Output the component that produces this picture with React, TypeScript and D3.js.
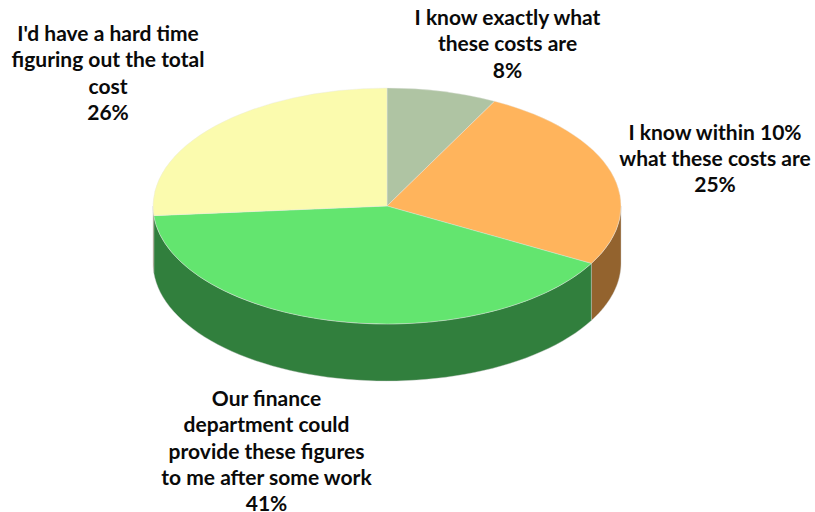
import React from "react";
import * as d3 from "d3";

const categories = [
  "I know exactly what these costs are",
  "I know within 10% what these costs are",
  "Our finance department could provide these figures to me after some work",
  "I'd have a hard time figuring out the total cost",
];
const values = [7.6, 25.5, 40.6, 26.3];
const topColors = ["#AFC4A3", "#FFB45C", "#63E56F", "#FBFBAE"];
const sideColors = ["#75836D", "#93632E", "#317F3D", "#8B8B60"];
const labelLines = [
  ["I know exactly what", "these costs are", "8%"],
  ["I know within 10%", "what these costs are", "25%"],
  ["Our finance", "department could", "provide these figures", "to me after some work", "41%"],
  ["I'd have a hard time", "figuring out the total", "cost", "26%"],
];
const labelAnchors: [number, number][] = [
  [507.5, 25],
  [715, 139.5],
  [266.5, 406],
  [108, 41],
];

const W = 815, H = 512, CX = 387, CY = 206, RX = 234, RY = 118, DEPTH = 57, LINE = 26.3;

const pie = d3.pie<number>().sort(null).startAngle(0).endAngle(2 * Math.PI);
const arcs = pie(values);
const arcGen = d3.arc<d3.PieArcDatum<number>>().innerRadius(0).outerRadius(RX);

function wall(a0: number, a1: number): string | null {
  const s = Math.max(a0, Math.PI / 2);
  const e = Math.min(a1, (3 * Math.PI) / 2);
  if (e <= s) return null;
  const angles = d3.range(0, 61).map((i) => s + ((e - s) * i) / 60);
  const px = (a: number) => CX + RX * Math.sin(a);
  const py = (a: number) => CY - RY * Math.cos(a);
  const top = angles.map((a) => [px(a), py(a)] as [number, number]);
  const bottom = angles.slice().reverse().map((a) => [px(a), py(a) + DEPTH] as [number, number]);
  return d3.line()([...top, ...bottom]) + "Z";
}

export default function App() {
  return (
    <svg width={W} height={H} viewBox={`0 0 ${W} ${H}`}
      style={{ position: "absolute", left: 0, top: 0, background: "#fff" }}>
      {arcs.map((a, i) => {
        const d = wall(a.startAngle, a.endAngle);
        return d ? <path key={i} d={d} fill={sideColors[i]} stroke="#c8c8c8" strokeWidth={0.4} /> : null;
      })}
      <g transform={`translate(${CX},${CY}) scale(1,${RY / RX})`}>
        {arcs.map((a, i) => (
          <path key={i} d={arcGen(a)!} fill={topColors[i]} stroke="#e6e6e6" strokeWidth={0.5} />
        ))}
      </g>
      {labelLines.map((lines, i) => (
        <text key={i} textAnchor="middle" fontFamily="Lato, 'Open Sans', sans-serif" fontWeight={700}
          fontSize={21} fill="#0a0a0a">
          {lines.map((l, j) => (
            <tspan key={j} x={labelAnchors[i][0]} y={labelAnchors[i][1] + j * LINE}>{l}</tspan>
          ))}
        </text>
      ))}
    </svg>
  );
}
